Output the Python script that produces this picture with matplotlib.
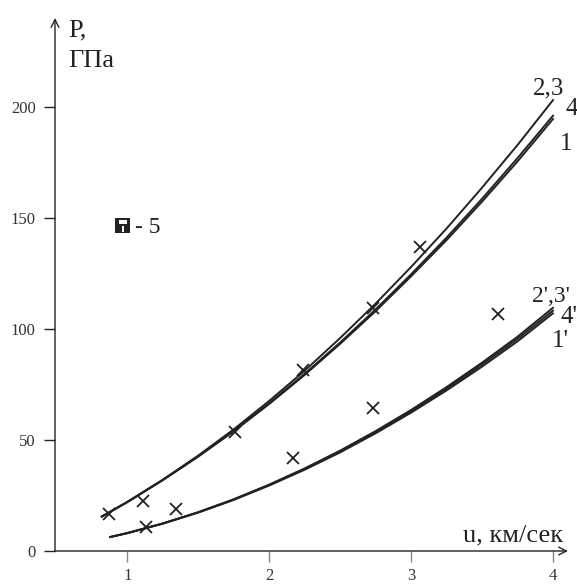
import matplotlib
matplotlib.use("Agg")
import matplotlib.pyplot as plt
from matplotlib.patches import Rectangle

plt.rcParams['font.family'] = ['Liberation Serif', 'DejaVu Serif']

# particle velocity, km/s
u = [0.82, 1.0, 1.25, 1.5, 1.75, 2.0, 2.25, 2.5, 2.75, 3.0, 3.25, 3.5, 3.75, 4.0]
p_23 = [15.5, 22.1, 32.1, 43.0, 54.8, 67.6, 81.2, 95.9, 111.4, 127.9, 145.2, 163.6, 182.8, 203.0]
p_4 = [15.5, 22.1, 32.0, 42.7, 54.2, 66.6, 79.8, 93.9, 108.8, 124.6, 141.1, 158.6, 176.9, 196.0]
p_1 = [15.5, 22.0, 31.9, 42.5, 53.9, 66.2, 79.3, 93.3, 108.0, 123.7, 140.0, 157.3, 175.4, 194.5]

u_low = [0.88, 1.0, 1.25, 1.5, 1.75, 2.0, 2.25, 2.5, 2.75, 3.0, 3.25, 3.5, 3.75, 4.0]
p_23s = [6.3, 8.1, 12.4, 17.5, 23.3, 29.9, 37.2, 45.2, 54.0, 63.5, 73.8, 84.8, 96.5, 109.5]
p_4s = [6.3, 8.1, 12.4, 17.4, 23.2, 29.7, 36.9, 44.8, 53.5, 62.9, 73.1, 84.0, 95.5, 108.2]
p_1s = [6.3, 8.0, 12.3, 17.3, 23.0, 29.5, 36.6, 44.4, 53.0, 62.3, 72.3, 83.0, 94.4, 107.0]

# experiment (crosses)
u_exp = [0.87, 1.11, 1.13, 1.34, 1.76, 2.17, 2.24, 2.73, 2.73, 3.06, 3.61]
p_exp = [16.7, 22.5, 10.8, 18.9, 53.6, 41.8, 81.5, 64.4, 109.5, 137.0, 106.7]

xticks = [1, 2, 3, 4]
yticks = [0, 50, 100, 150, 200]

fig = plt.figure(figsize=(5.77, 5.85), dpi=100)
ax = fig.add_axes([55 / 577, 34 / 585, 513 / 577, 533 / 585])
ax.set_xlim(0.49, 4.106)
ax.set_ylim(0, 240)

c = '#222222'
for yy in (p_23, p_4, p_1):
    ax.plot(u, yy, color=c, lw=1.4)
for yy in (p_23s, p_4s, p_1s):
    ax.plot(u_low, yy, color=c, lw=1.4)
ax.plot(u_exp, p_exp, ls='none', marker='x', ms=8, mew=1.3, color=c)

for s in ax.spines.values():
    s.set_visible(False)
ax.annotate('', xy=(0, 1), xytext=(0, 0), xycoords='axes fraction',
            arrowprops=dict(arrowstyle='->', color=c, lw=1.0, mutation_scale=14,
                            shrinkA=0, shrinkB=0))
ax.annotate('', xy=(1, 0), xytext=(0, 0), xycoords='axes fraction',
            arrowprops=dict(arrowstyle='->', color=c, lw=1.0, mutation_scale=14,
                            shrinkA=0, shrinkB=0))

ax.set_xticks(xticks)
ax.set_yticks(yticks)
ax.tick_params(axis='y', direction='out', length=8, width=1.0, color=c,
               labelsize=12, labelcolor='#333333', pad=6)
ax.tick_params(axis='x', direction='out', length=8, width=1.0, color='#888888',
               labelsize=12, labelcolor='#333333', pad=4)

fs = 19
ax.text(0.585, 231.5, 'P,', fontsize=fs, color=c, va='baseline')
ax.text(0.585, 218, 'ГПа', fontsize=fs, color=c, va='baseline')
ax.text(4.07, 4.1, 'u, км/сек', fontsize=fs, color=c, va='baseline', ha='right')

fl = 18
ax.text(3.86, 205.4, '2,3', fontsize=fl, color=c, va='baseline')
ax.text(4.085, 196.4, '4', fontsize=fl, color=c, va='baseline')
ax.text(4.05, 180.6, '1', fontsize=fl, color=c, va='baseline')
ax.text(3.85, 112.2, "2',3'", fontsize=fl - 1, color=c, va='baseline')
ax.text(4.05, 102.5, "4'", fontsize=fl, color=c, va='baseline')
ax.text(3.99, 91.9, "1'", fontsize=fl, color=c, va='baseline')

# legend icon for series 5
ax.add_patch(Rectangle((0.915, 143.2), 0.105, 6.8, color=c, lw=0))
ax.add_patch(Rectangle((0.94, 147.4), 0.055, 1.6, color='white', lw=0))
ax.add_patch(Rectangle((0.962, 143.8), 0.012, 2.6, color='white', lw=0))
ax.text(1.056, 143.2, '- 5', fontsize=17, color=c, va='baseline')

fig.savefig('out.png', dpi=100)
